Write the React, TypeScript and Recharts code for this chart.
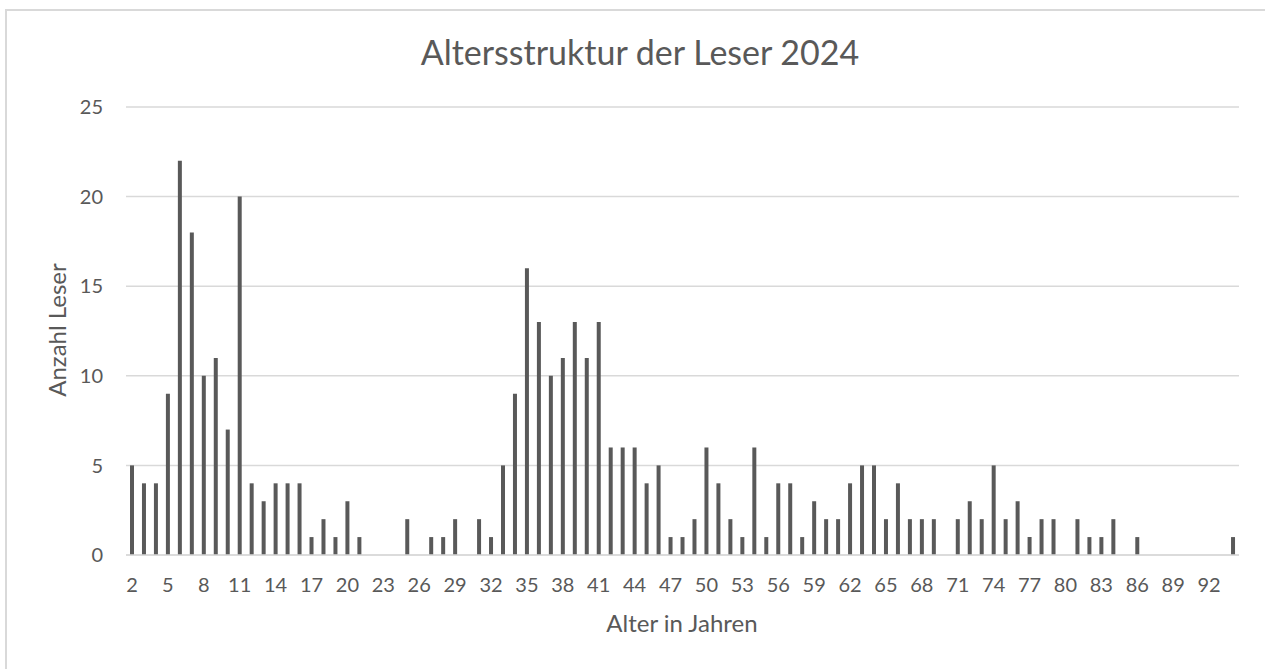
import { Bar, BarChart, CartesianGrid, XAxis, YAxis } from "recharts";

// Alter 2..94
const ages = Array.from({ length: 93 }, (_, i) => String(i + 2));

const readers = [
  5, 4, 4, 9, 22, 18, 10, 11, 7, 20, // 2-11
  4, 3, 4, 4, 4, 1, 2, 1, 3, 1, // 12-21
  0, 0, 0, 2, 0, 1, 1, 2, 0, 2, // 22-31
  1, 5, 9, 16, 13, 10, 11, 13, 11, 13, // 32-41
  6, 6, 6, 4, 5, 1, 1, 2, 6, 4, // 42-51
  2, 1, 6, 1, 4, 4, 1, 3, 2, 2, // 52-61
  4, 5, 5, 2, 4, 2, 2, 2, 0, 2, // 62-71
  3, 2, 5, 2, 3, 1, 2, 2, 0, 2, // 72-81
  1, 1, 2, 0, 1, 0, 0, 0, 0, 0, // 82-91
  0, 0, 1, // 92-94
];

const yTicks = [0, 5, 10, 15, 20, 25];

const data = ages.map((age, i) => ({ age, readers: readers[i] }));

const font = "Lato, 'Open Sans', sans-serif";
const textColor = "#595959";

export default function App() {
  return (
    <div
      style={{
        position: "fixed",
        left: 5,
        top: 9,
        width: 1258,
        height: 658,
        overflow: "hidden",
        borderLeft: "2px solid #d9d9d9",
        borderTop: "2px solid #d9d9d9",
        background: "#fff",
        fontFamily: font,
      }}
    >
      <div
        style={{
          position: "absolute",
          left: 0,
          width: 1266,
          top: 24,
          lineHeight: "34px",
          textAlign: "center",
          fontSize: 34,
          color: textColor,
        }}
      >
        Altersstruktur der Leser 2024
      </div>
      <div
        style={{
          position: "absolute",
          left: 375,
          width: 600,
          top: 600,
          lineHeight: "24px",
          textAlign: "center",
          fontSize: 24,
          color: textColor,
        }}
      >
        Alter in Jahren
      </div>
      <div
        style={{
          position: "absolute",
          left: 50,
          top: 319,
          lineHeight: "24px",
          transform: "translate(-50%, -50%) rotate(-90deg)",
          whiteSpace: "nowrap",
          fontSize: 24,
          color: textColor,
        }}
      >
        Anzahl Leser
      </div>
      <BarChart
        width={1255}
        height={655}
        data={data}
        margin={{ top: 96, right: 23, bottom: 81, left: 0 }}
        barCategoryGap={0}
      >
        <CartesianGrid vertical={false} stroke="#d9d9d9" strokeWidth={1.5} />
        <XAxis
          dataKey="age"
          interval={2}
          tickLine={false}
          axisLine={{ stroke: "#d9d9d9", strokeWidth: 1.5 }}
          tick={{ fill: textColor, fontSize: 20, fontFamily: font }}
          tickMargin={17}
          height={30}
        />
        <YAxis
          width={119}
          domain={[0, 25]}
          ticks={yTicks}
          axisLine={false}
          tickLine={false}
          tickMargin={17}
          tick={{ fill: textColor, fontSize: 20, fontFamily: font }}
        />
        <Bar dataKey="readers" fill="#595959" barSize={4} isAnimationActive={false} />
      </BarChart>
    </div>
  );
}
